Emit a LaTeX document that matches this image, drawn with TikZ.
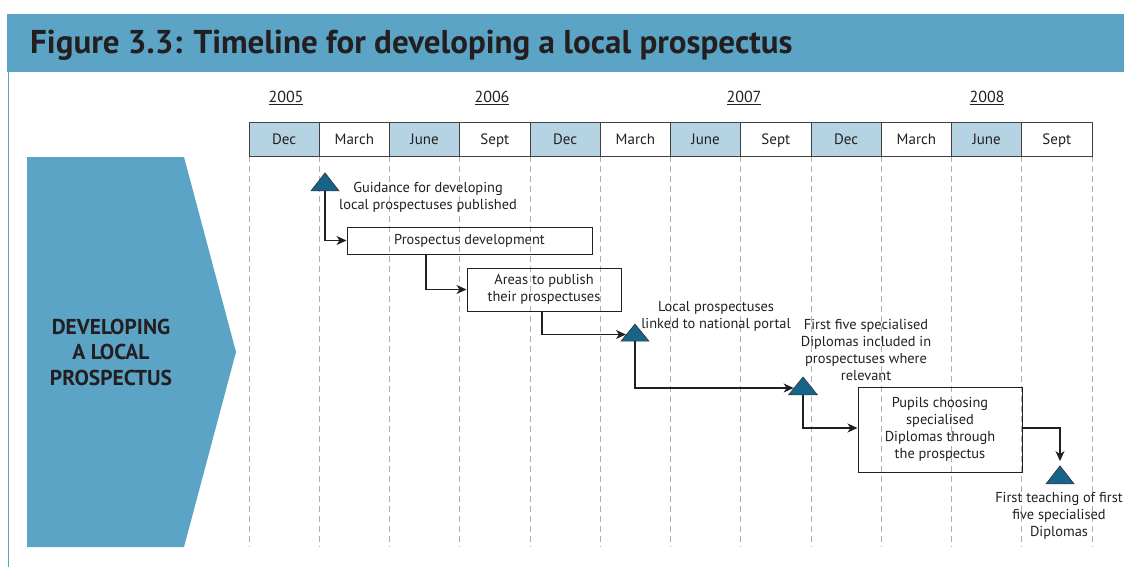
\documentclass[tikz,border=0pt]{standalone}
\usepackage{fontspec}
\setmainfont{PT Sans}
\usetikzlibrary{arrows.meta, shapes.geometric}
\definecolor{barblue}{RGB}{91,164,198}
\definecolor{cellblue}{RGB}{182,211,228}
\definecolor{triblue}{RGB}{22,100,138}
\definecolor{textgray}{RGB}{35,31,32}
\definecolor{dashgray}{RGB}{175,175,175}

\begin{document}
\begin{tikzpicture}[x = 1pt, y = -1pt]
\tikzstyle{MonthStyle}=[
draw = black!75,
line width = 1pt,
minimum width = 70.25pt,
minimum height = 33pt,
inner sep = 0pt,
text height = 10pt,
text depth = 0pt,
text = textgray,
font = \fontsize{15}{17}\selectfont]
\tikzstyle{BoxStyle}=[
draw = textgray,
line width = 1pt,
align = center,
inner sep = 0pt,
text = textgray,
font = \fontsize{14.4}{17}\selectfont]
\tikzstyle{TriStyle}=[
isosceles triangle,
isosceles triangle stretches,
shape border rotate = 90,
fill = triblue,
draw = black!80,
line width = 0.6pt,
inner sep = 0pt]
\tikzstyle{LabelStyle}=[
align = center,
inner sep = 0pt,
text = textgray,
font = \fontsize{14.4}{17}\selectfont]
\tikzstyle{GridStyle}=[
dashgray,
line width = 0.8pt,
dash pattern = on 6pt off 4pt]
\tikzstyle{post}=[
textgray,
line width = 1.1pt,
-{Stealth[length = 10pt, width = 9pt, inset = 3pt]}]
\useasboundingbox (0,0) rectangle (1124,567);
\fill[barblue] (7,14) rectangle (1124,72);
\draw[barblue, line width = 1pt] (8,72) -- (8,567);
\node[anchor = base west, inner sep = 0pt, text = textgray, font = \fontsize{33}{38}\selectfont\bfseries] (title) at (30,54) {Figure 3.3: Timeline for developing a local prospectus};
\fill[barblue] (27,157) -- (184,157) -- (236,352) -- (184,547) -- (27,547) -- cycle;
\node[align = center, text = textgray, font = \fontsize{21.5}{25.5}\selectfont\bfseries] (side) at (111,352) {DEVELOPING\\A LOCAL\\PROSPECTUS};
\node[text = textgray, font = \fontsize{16}{18}\selectfont] (y1) at (286,98) {\underline{2005}};
\node[text = textgray, font = \fontsize{16}{18}\selectfont] (y2) at (492,98) {\underline{2006}};
\node[text = textgray, font = \fontsize{16}{18}\selectfont] (y3) at (744,98) {\underline{2007}};
\node[text = textgray, font = \fontsize{16}{18}\selectfont] (y4) at (987,98) {\underline{2008}};
\draw[GridStyle] (249,156) -- (249,547);
\draw[GridStyle] (319.25,156) -- (319.25,547);
\draw[GridStyle] (389.5,156) -- (389.5,547);
\draw[GridStyle] (459.75,156) -- (459.75,547);
\draw[GridStyle] (530,156) -- (530,547);
\draw[GridStyle] (600.25,156) -- (600.25,547);
\draw[GridStyle] (670.5,156) -- (670.5,547);
\draw[GridStyle] (740.75,156) -- (740.75,547);
\draw[GridStyle] (811,156) -- (811,547);
\draw[GridStyle] (881.25,156) -- (881.25,547);
\draw[GridStyle] (951.5,156) -- (951.5,547);
\draw[GridStyle] (1021.75,156) -- (1021.75,547);
\draw[GridStyle] (1092,156) -- (1092,547);
\node[MonthStyle, fill = cellblue] (m1) at (284.125,139.5) {Dec};
\node[MonthStyle] (m2) at (354.375,139.5) {March};
\node[MonthStyle, fill = cellblue] (m3) at (424.625,139.5) {June};
\node[MonthStyle] (m4) at (494.875,139.5) {Sept};
\node[MonthStyle, fill = cellblue] (m5) at (565.125,139.5) {Dec};
\node[MonthStyle] (m6) at (635.375,139.5) {March};
\node[MonthStyle, fill = cellblue] (m7) at (705.625,139.5) {June};
\node[MonthStyle] (m8) at (775.875,139.5) {Sept};
\node[MonthStyle, fill = cellblue] (m9) at (846.125,139.5) {Dec};
\node[MonthStyle] (m10) at (916.375,139.5) {March};
\node[MonthStyle, fill = cellblue] (m11) at (986.625,139.5) {June};
\node[MonthStyle] (m12) at (1056.875,139.5) {Sept};
\node[TriStyle, minimum width = 28pt, minimum height = 18pt] (t1) at (325,184) {};
\node[TriStyle, minimum width = 28pt, minimum height = 17pt] (t2) at (635,334.5) {};
\node[TriStyle, minimum width = 29pt, minimum height = 18pt] (t3) at (803,388) {};
\node[TriStyle, minimum width = 28pt, minimum height = 18pt] (t4) at (1060,477) {};
\node[BoxStyle, minimum width = 245pt, minimum height = 27pt] (b1) at (469.5,240.5) {Prospectus development};
\node[BoxStyle, minimum width = 154pt, minimum height = 43pt] (b2) at (544,289.5) {Areas to publish\\their prospectuses};
\node[BoxStyle, minimum width = 164pt, minimum height = 85pt] (b3) at (940,429.5) {Pupils choosing\\specialised\\Diplomas through\\the prospectus};
\node[LabelStyle] (l1) at (428,197) {Guidance for developing\\local prospectuses published};
\node[LabelStyle] (l2) at (716,316.5) {Local prospectuses\\linked to national portal};
\node[LabelStyle] (l3) at (866,349.5) {First five specialised\\Diplomas included in\\prospectuses where\\relevant};
\node[LabelStyle] (l4) at (1059,516) {First teaching of first\\five specialised\\Diplomas};
\draw[post] (t1.south) |- (b1.west);
\draw[post] ([xshift = -43.5]b1.south) |- (b2.west);
\draw[post] ([xshift = -2]b2.south) |- (t2.west);
\draw[post] (t2.south) |- (t3.west);
\draw[post] (t3.south) |- ([yshift = 1.5]b3.west);
\draw[post, shorten > = 4pt] ([yshift = 1.5]b3.east) -| (t4.north);
\end{tikzpicture}
\end{document}
